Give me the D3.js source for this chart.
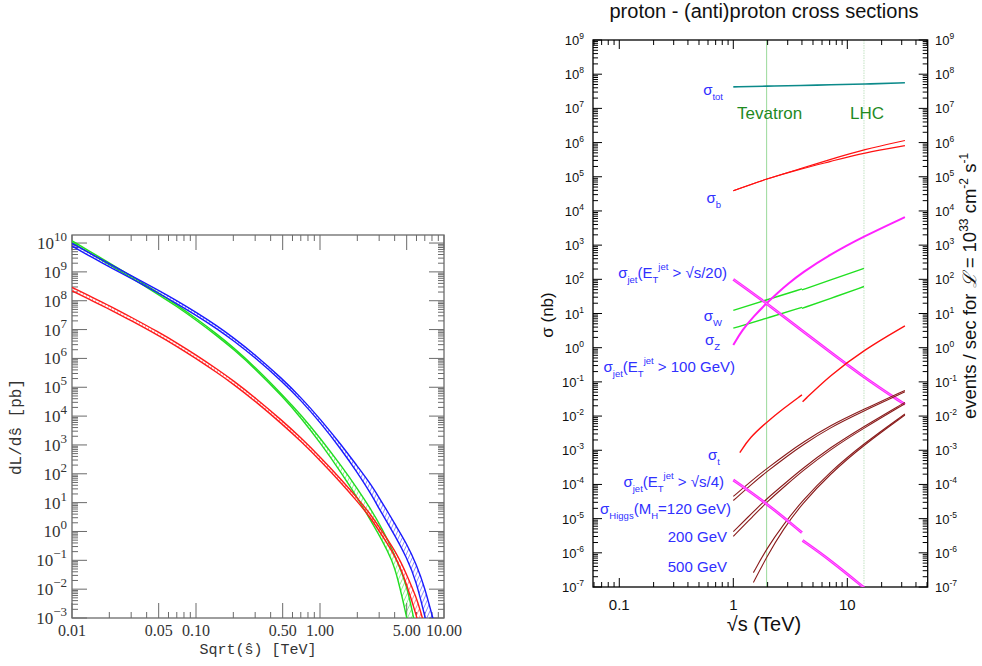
<!DOCTYPE html>
<html>
<head>
<meta charset="utf-8">
<script src="https://cdn.jsdelivr.net/npm/d3@7"></script>
<style>
  body { margin: 0; background: #fff; }
  svg { display: block; }
</style>
</head>
<body>
<div id="chart"></div>
<script>
// ---------- left panel: dL/dshat [pb], values are log10 exponents ----------
var blueX  = [0.01, 0.015, 0.02, 0.03, 0.05, 0.07, 0.1, 0.15, 0.2, 0.3, 0.5, 0.7, 1, 1.5, 2, 2.53, 3, 3.5, 4, 5, 6, 7, 8, 8.5];
var blueHi = [9.99, 9.57, 9.28, 8.87, 8.36, 8.00, 7.60, 7.11, 6.72, 6.13, 5.28, 4.65, 3.91, 2.98, 2.26, 1.68, 1.17, 0.70, 0.27, -0.42, -1.15, -1.95, -2.90, -3.30];
var blueLo = [9.89, 9.47, 9.18, 8.77, 8.26, 7.90, 7.50, 7.01, 6.62, 6.03, 5.18, 4.55, 3.79, 2.82, 2.04, 1.36, 0.79, 0.30, -0.13, -0.90, -1.75, -2.95, -3.90, -4.30];

var greenX  = [0.01, 0.015, 0.02, 0.03, 0.05, 0.07, 0.1, 0.15, 0.2, 0.3, 0.5, 0.7, 1, 1.5, 2, 2.53, 3.2, 3.8, 4.2, 5, 5.7, 6.2];
var greenHi = [10.08, 9.63, 9.31, 8.86, 8.27, 7.86, 7.39, 6.82, 6.38, 5.70, 4.73, 4.05, 3.25, 2.25, 1.49, 0.82, 0.07, -0.60, -1.04, -1.85, -3.00, -3.80];
var greenLo = [10.02, 9.57, 9.25, 8.80, 8.21, 7.80, 7.33, 6.76, 6.32, 5.64, 4.67, 3.95, 3.09, 2.01, 1.17, 0.42, -0.33, -0.99, -1.55, -2.95, -4.20, -5.00];

var redX  = [0.01, 0.015, 0.02, 0.03, 0.05, 0.07, 0.1, 0.15, 0.2, 0.3, 0.5, 0.7, 1, 1.5, 2, 2.53, 3, 3.5, 4, 4.5, 5, 6, 6.5, 7];
var redHi = [8.46, 8.09, 7.83, 7.43, 6.91, 6.54, 6.12, 5.61, 5.23, 4.64, 3.83, 3.25, 2.59, 1.78, 1.16, 0.62, 0.15, -0.27, -0.66, -1.07, -1.50, -2.30, -2.80, -3.30];
var redLo = [8.34, 7.97, 7.71, 7.31, 6.79, 6.42, 6.00, 5.49, 5.11, 4.52, 3.71, 3.13, 2.47, 1.66, 1.04, 0.50, 0.02, -0.43, -0.85, -1.30, -1.85, -2.92, -3.50, -4.00];

var lumXTicks  = [0.01, 0.05, 0.1, 0.5, 1, 5, 10];
var lumXLabels = ["0.01", "0.05", "0.10", "0.50", "1.00", "5.00", "10.00"];
var lumYExps   = [-3, -2, -1, 0, 1, 2, 3, 4, 5, 6, 7, 8, 9, 10];

// ---------- right panel: cross sections sigma [nb], log10 exponents ----------
var totX = [1, 1.96, 4, 7, 14, 32];
var totE = [7.63, 7.65, 7.67, 7.69, 7.71, 7.75];

var bX   = [1, 1.96, 4, 7, 14, 32];
var bHiE = [4.59, 4.94, 5.25, 5.50, 5.80, 6.06];
var bLoE = [4.59, 4.94, 5.24, 5.44, 5.70, 5.91];

var jet100X = [1, 1.2, 1.5, 1.96, 2.5, 3, 4, 7, 14, 32];
var jet100E = [0.08, 0.52, 0.91, 1.30, 1.63, 1.86, 2.19, 2.72, 3.26, 3.82];

var jet20X = [1, 1.96, 4, 14, 32];
var jet20E = [2.00, 1.30, 0.50, -0.88, -1.66];

var wX1 = [1, 1.96, 4],  wE1 = [1.09, 1.40, 1.72];
var wX2 = [4, 7, 14],    wE2 = [1.69, 1.97, 2.32];
var zX1 = [1, 1.96, 4],  zE1 = [0.57, 0.86, 1.18];
var zX2 = [4, 7, 14],    zE2 = [1.15, 1.43, 1.79];

var topX1 = [1.14, 1.4, 1.96, 2.75, 4];
var topE1 = [-3.07, -2.62, -2.18, -1.78, -1.38];
var topX2 = [4.05, 7, 14, 32];
var topE2 = [-1.58, -0.82, -0.06, 0.64];

var jet4X1 = [1, 1.96, 4];
var jet4E1 = [-3.87, -4.55, -5.41];
var jet4X2 = [4.05, 7, 14];
var jet4E2 = [-5.64, -6.20, -7.02];

var h120X  = [1, 1.5, 1.96, 3, 4, 7, 14, 32];
var h120Ea = [-4.35, -3.85, -3.54, -3.08, -2.79, -2.28, -1.80, -1.25];
var h120Eb = [-4.47, -3.95, -3.63, -3.16, -2.86, -2.34, -1.85, -1.29];
var h200X  = [1, 1.5, 1.96, 3, 4, 7, 14, 32];
var h200Ea = [-5.38, -4.80, -4.42, -3.90, -3.55, -2.93, -2.30, -1.60];
var h200Eb = [-5.52, -4.92, -4.52, -3.98, -3.62, -2.99, -2.35, -1.64];
var h500X  = [1.5, 1.96, 2.75, 4, 7, 14, 32];
var h500Ea = [-6.58, -5.88, -5.17, -4.49, -3.64, -2.80, -1.94];
var h500Eb = [-6.87, -6.12, -5.30, -4.57, -3.70, -2.84, -1.97];

var tevatronRoots = 1.96, lhcRoots = 14;
var xsXTicks  = [0.1, 1, 10];
var xsXLabels = ["0.1", "1", "10"];
var xsYExps   = [-7, -6, -5, -4, -3, -2, -1, 0, 1, 2, 3, 4, 5, 6, 7, 8, 9];

function p10(e) { return Math.pow(10, e); }
function minus(n) { return n < 0 ? "\u2212" + (-n) : "" + n; }

var svg = d3.select("#chart").append("svg")
    .attr("width", 982)
    .attr("height", 666);
var defs = svg.append("defs");

// log ticks between two limits: returns {v, major}
function logTicks(lo, hi, isMajor) {
  var out = [];
  for (var d = Math.floor(Math.log10(lo)) - 1; d <= Math.ceil(Math.log10(hi)); d++) {
    for (var m = 1; m <= 9; m++) {
      var v = m * Math.pow(10, d);
      if (v >= lo * 0.9999 && v <= hi * 1.0001) out.push({v: v, major: isMajor(m)});
    }
  }
  return out;
}

// ==================== LEFT PANEL ====================
var L = {left: 72, right: 444, top: 235, bottom: 618};
var xL = d3.scaleLog().domain([0.01, 10]).range([L.left, L.right]);
var yL = d3.scaleLog().domain([1e-3, 1.9e10]).range([L.bottom, L.top]);
var gL = svg.append("g");
var axisCol = "#6a6a6a";
var serif = "Liberation Serif, serif";

defs.append("clipPath").attr("id", "clipL").append("rect")
    .attr("x", L.left).attr("y", L.top)
    .attr("width", L.right - L.left).attr("height", L.bottom - L.top);

// ticks
logTicks(0.01, 10, function(m){ return m === 1 || m === 5; }).forEach(function(t) {
  var len = t.major ? 15 : 6, px = xL(t.v);
  gL.append("line").attr("x1", px).attr("x2", px).attr("y1", L.bottom).attr("y2", L.bottom - len)
      .attr("stroke", axisCol).attr("stroke-width", 1);
  gL.append("line").attr("x1", px).attr("x2", px).attr("y1", L.top).attr("y2", L.top + len)
      .attr("stroke", axisCol).attr("stroke-width", 1);
});
logTicks(1e-3, 1.9e10, function(m){ return m === 1; }).forEach(function(t) {
  var len = t.major ? 15 : 6, py = yL(t.v);
  gL.append("line").attr("x1", L.left).attr("x2", L.left + len).attr("y1", py).attr("y2", py)
      .attr("stroke", axisCol).attr("stroke-width", 1);
  gL.append("line").attr("x1", L.right).attr("x2", L.right - len).attr("y1", py).attr("y2", py)
      .attr("stroke", axisCol).attr("stroke-width", 1);
});

gL.append("rect").attr("x", L.left).attr("y", L.top)
    .attr("width", L.right - L.left).attr("height", L.bottom - L.top)
    .attr("fill", "none").attr("stroke", axisCol).attr("stroke-width", 1.3);

// tick labels
lumXTicks.forEach(function(v, i) {
  gL.append("text").attr("x", xL(v)).attr("y", 636)
      .attr("text-anchor", "middle")
      .style("font-family", serif).style("font-size", "16px").style("fill", "#333")
      .text(lumXLabels[i]);
});
lumYExps.forEach(function(e) {
  var t = gL.append("text").attr("x", 67).attr("y", yL(p10(e)) + 6)
      .attr("text-anchor", "end")
      .style("font-family", serif).style("font-size", "17px").style("fill", "#333");
  t.append("tspan").text("10");
  t.append("tspan").attr("dy", -8).style("font-size", "13px").text(minus(e));
});

gL.append("text").attr("x", 258).attr("y", 654).attr("text-anchor", "middle")
    .style("font-family", "Liberation Mono, monospace").style("font-size", "15px").style("fill", "#333")
    .text("Sqrt(\u015D) [TeV]");
gL.append("text").attr("transform", "translate(21,427) rotate(-90)").attr("text-anchor", "middle")
    .style("font-family", "Liberation Mono, monospace").style("font-size", "16px").style("fill", "#333")
    .text("dL/d\u015D [pb]");

// bands: two edge lines with hatching between them
var bands = [
  {name: "green", col: "#22dd22", xs: greenX, hi: greenHi, lo: greenLo},
  {name: "red",   col: "#ff1a1a", xs: redX,   hi: redHi,   lo: redLo},
  {name: "blue",  col: "#1a1aff", xs: blueX,  hi: blueHi,  lo: blueLo}
];
var gBands = gL.append("g").attr("clip-path", "url(#clipL)");
bands.forEach(function(b) {
  var pat = defs.append("pattern").attr("id", "hatch-" + b.name)
      .attr("patternUnits", "userSpaceOnUse").attr("width", 3.5).attr("height", 3.5)
      .attr("patternTransform", "rotate(25)");
  pat.append("line").attr("x1", 0).attr("y1", 0).attr("x2", 0).attr("y2", 3.5)
      .attr("stroke", b.col).attr("stroke-width", 0.9);
  var pts = b.xs.map(function(x, i) { return {x: x, hi: b.hi[i], lo: b.lo[i]}; });
  var area = d3.area()
      .x(function(d) { return xL(d.x); })
      .y0(function(d) { return yL(p10(d.lo)); })
      .y1(function(d) { return yL(p10(d.hi)); })
      .curve(d3.curveBasis);
  gBands.append("path").datum(pts).attr("d", area)
      .attr("fill", "url(#hatch-" + b.name + ")").attr("stroke", "none");
  ["hi", "lo"].forEach(function(k) {
    var line = d3.line()
        .x(function(d) { return xL(d.x); })
        .y(function(d) { return yL(p10(d[k])); })
        .curve(d3.curveBasis);
    gBands.append("path").datum(pts).attr("d", line)
        .attr("fill", "none").attr("stroke", b.col).attr("stroke-width", 1.4);
  });
});

// ==================== RIGHT PANEL ====================
var R = {left: 593, right: 927.7, top: 40, bottom: 587};
var xR = d3.scaleLog().domain([0.0588, 50.7]).range([R.left, R.right]);
var yR = d3.scaleLog().domain([1e-7, 1e9]).range([R.bottom, R.top]);
var gR = svg.append("g");
var sans = "Liberation Sans, Arial, sans-serif";

defs.append("clipPath").attr("id", "clipR").append("rect")
    .attr("x", R.left).attr("y", R.top)
    .attr("width", R.right - R.left).attr("height", R.bottom - R.top);

// collider lines
gR.append("line").attr("x1", xR(tevatronRoots)).attr("x2", xR(tevatronRoots))
    .attr("y1", R.top).attr("y2", R.bottom)
    .attr("stroke", "#7fcf7f").attr("stroke-width", 0.8);
gR.append("line").attr("x1", xR(lhcRoots)).attr("x2", xR(lhcRoots))
    .attr("y1", R.top).attr("y2", R.bottom)
    .attr("stroke", "#b3dcb3").attr("stroke-width", 0.8).attr("stroke-dasharray", "1.5,1");

// ticks
logTicks(0.0588, 50.7, function(m){ return m === 1; }).forEach(function(t) {
  var len = t.major ? 9 : 5, px = xR(t.v);
  gR.append("line").attr("x1", px).attr("x2", px).attr("y1", R.bottom).attr("y2", R.bottom - len)
      .attr("stroke", "#000").attr("stroke-width", 1);
  gR.append("line").attr("x1", px).attr("x2", px).attr("y1", R.top).attr("y2", R.top + len)
      .attr("stroke", "#000").attr("stroke-width", 1);
});
logTicks(1e-7, 1e9, function(m){ return m === 1; }).forEach(function(t) {
  var len = t.major ? 9 : 5, py = yR(t.v);
  gR.append("line").attr("x1", R.left).attr("x2", R.left + len).attr("y1", py).attr("y2", py)
      .attr("stroke", "#000").attr("stroke-width", 1);
  gR.append("line").attr("x1", R.right).attr("x2", R.right - len).attr("y1", py).attr("y2", py)
      .attr("stroke", "#000").attr("stroke-width", 1);
});
gR.append("rect").attr("x", R.left).attr("y", R.top)
    .attr("width", R.right - R.left).attr("height", R.bottom - R.top)
    .attr("fill", "none").attr("stroke", "#000").attr("stroke-width", 1.3);

// tick labels
xsXTicks.forEach(function(v, i) {
  gR.append("text").attr("x", xR(v)).attr("y", 610).attr("text-anchor", "middle")
      .style("font-family", sans).style("font-size", "15px").style("fill", "#111")
      .text(xsXLabels[i]);
});
xsYExps.forEach(function(e) {
  [{x: 584, anchor: "end"}, {x: 935, anchor: "start"}].forEach(function(s) {
    var t = gR.append("text").attr("x", s.x).attr("y", yR(p10(e)) + 5)
        .attr("text-anchor", s.anchor)
        .style("font-family", sans).style("font-size", "13px").style("fill", "#111");
    t.append("tspan").text("10");
    t.append("tspan").attr("dy", -6).style("font-size", "8.5px").text(e < 0 ? "-" + (-e) : "" + e);
  });
});

gR.append("text").attr("x", 764).attr("y", 18).attr("text-anchor", "middle")
    .style("font-family", sans).style("font-size", "20px").style("fill", "#111")
    .text("proton - (anti)proton cross sections");
gR.append("text").attr("x", 764).attr("y", 631).attr("text-anchor", "middle")
    .style("font-family", sans).style("font-size", "20px").style("fill", "#111")
    .text("\u221As (TeV)");
gR.append("text").attr("transform", "translate(553,315) rotate(-90)").attr("text-anchor", "middle")
    .style("font-family", sans).style("font-size", "17px").style("fill", "#111")
    .text("\u03C3 (nb)");
var ev = gR.append("text").attr("transform", "translate(976,286) rotate(-90)").attr("text-anchor", "middle")
    .style("font-family", sans).style("font-size", "18.5px").style("fill", "#111");
ev.append("tspan").text("events / sec for ");
ev.append("tspan").style("font-style", "italic").text("\u2112");
ev.append("tspan").text(" = 10");
ev.append("tspan").attr("dy", -8).style("font-size", "12px").text("33");
ev.append("tspan").attr("dy", 8).text(" cm");
ev.append("tspan").attr("dy", -8).style("font-size", "12px").text("-2");
ev.append("tspan").attr("dy", 8).text(" s");
ev.append("tspan").attr("dy", -8).style("font-size", "12px").text("-1");

// curves
var gC = gR.append("g").attr("clip-path", "url(#clipR)");
function drawSeries(xs, es, col, w, inner) {
  var pts = xs.map(function(x, i) { return [x, es[i]]; });
  var line = d3.line()
      .x(function(d) { return xR(d[0]); })
      .y(function(d) { return yR(p10(d[1])); })
      .curve(d3.curveBasis);
  gC.append("path").datum(pts).attr("d", line)
      .attr("fill", "none").attr("stroke", col).attr("stroke-width", w);
  if (inner) {
    gC.append("path").datum(pts).attr("d", line)
        .attr("fill", "none").attr("stroke", inner).attr("stroke-width", 0.7);
  }
}
var teal = "#0b8a8a", red = "#ff1111", magenta = "#ff22ff", green = "#22e022", brown = "#8a1c1c";

drawSeries(totX, totE, teal, 1.6);
drawSeries(bX, bHiE, red, 1.1);
drawSeries(bX, bLoE, red, 1.1);
drawSeries(wX1, wE1, green, 1.4);
drawSeries(wX2, wE2, green, 1.4);
drawSeries(zX1, zE1, green, 1.4);
drawSeries(zX2, zE2, green, 1.4);
drawSeries(jet100X, jet100E, magenta, 2);
drawSeries(jet20X, jet20E, magenta, 2.8, "#ffa6ff");
drawSeries(topX1, topE1, red, 1.4);
drawSeries(topX2, topE2, red, 1.4);
drawSeries(h120X, h120Ea, brown, 1.1);
drawSeries(h120X, h120Eb, brown, 1.1);
drawSeries(h200X, h200Ea, brown, 1.1);
drawSeries(h200X, h200Eb, brown, 1.1);
drawSeries(h500X, h500Ea, brown, 1.1);
drawSeries(h500X, h500Eb, brown, 1.1);
drawSeries(jet4X1, jet4E1, magenta, 2.8, "#ffa6ff");
drawSeries(jet4X2, jet4E2, magenta, 2.8, "#ffa6ff");

// collider names
gR.append("text").attr("x", 737).attr("y", 119)
    .style("font-family", sans).style("font-size", "17px").style("fill", "#1f8a1f").text("Tevatron");
gR.append("text").attr("x", 850).attr("y", 119)
    .style("font-family", sans).style("font-size", "17px").style("fill", "#1f8a1f").text("LHC");

// process labels: parts are [text, kind] with kind n(ormal), s(ub), p(sup)
var labelBlue = "#3030ff";
function processLabel(xEnd, yMid, parts) {
  var t = gR.append("text").attr("x", xEnd).attr("y", yMid + 5).attr("text-anchor", "end")
      .style("font-family", sans).style("font-size", "15px").style("fill", labelBlue);
  var level = 0;
  parts.forEach(function(p) {
    var target = p[1] === "s" ? 5 : (p[1] === "p" ? -8 : 0);
    t.append("tspan").attr("dy", target - level)
        .style("font-size", p[1] === "n" ? "15px" : "9.5px").text(p[0]);
    level = target;
  });
}
var sig = "\u03C3";
processLabel(723, 90,  [[sig, "n"], ["tot", "s"]]);
processLabel(721, 198, [[sig, "n"], ["b", "s"]]);
processLabel(727, 273, [[sig, "n"], ["jet", "s"], ["(E", "n"], ["T", "s"], ["jet", "p"], [" > \u221As/20)", "n"]]);
processLabel(722, 316, [[sig, "n"], ["W", "s"]]);
processLabel(720, 340, [[sig, "n"], ["Z", "s"]]);
processLabel(735, 367, [[sig, "n"], ["jet", "s"], ["(E", "n"], ["T", "s"], ["jet", "p"], [" > 100 GeV)", "n"]]);
processLabel(720, 455, [[sig, "n"], ["t", "s"]]);
processLabel(724, 482, [[sig, "n"], ["jet", "s"], ["(E", "n"], ["T", "s"], ["jet", "p"], [" > \u221As/4)", "n"]]);
processLabel(731, 509, [[sig, "n"], ["Higgs", "s"], ["(M", "n"], ["H", "s"], ["=120 GeV)", "n"]]);
processLabel(727, 537, [["200 GeV", "n"]]);
processLabel(727, 567, [["500 GeV", "n"]]);
</script>
</body>
</html>
